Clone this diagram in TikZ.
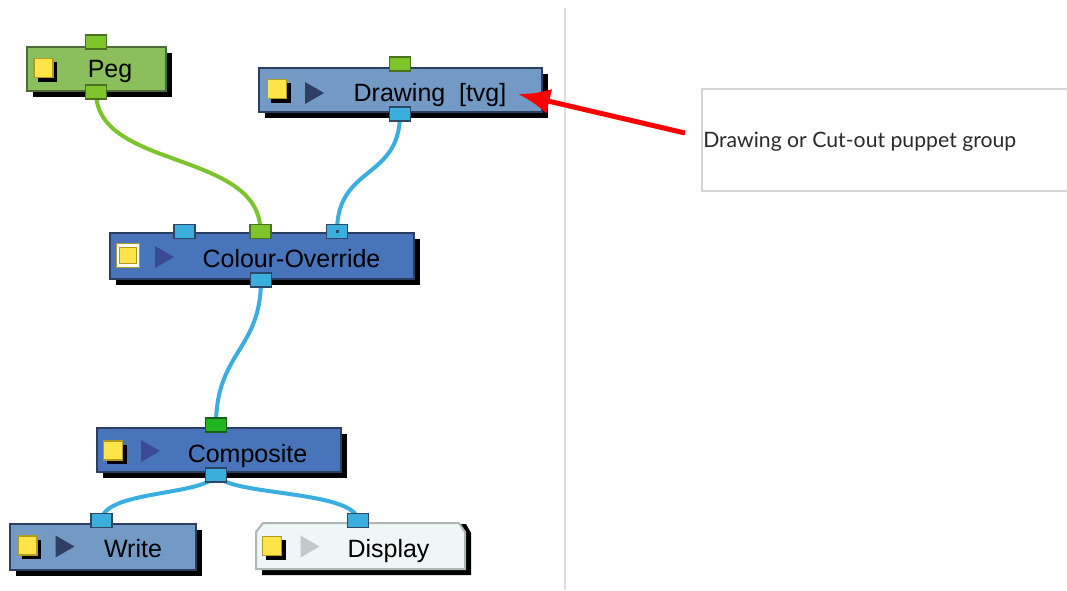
\documentclass[tikz,border=0pt]{standalone}
\usepackage{fontspec}
\setmainfont{Liberation Sans}
\newfontfamily\notefont{Lato}
\usetikzlibrary{shadows,arrows.meta}
\definecolor{pegfill}{HTML}{8BBF5B}
\definecolor{pegborder}{HTML}{4E6B35}
\definecolor{lightblue}{HTML}{7399C5}
\definecolor{darkblue}{HTML}{4774BA}
\definecolor{nodeborder}{HTML}{2C3E60}
\definecolor{portblue}{HTML}{3BAEDE}
\definecolor{portborder}{HTML}{2E4763}
\definecolor{portgreen}{HTML}{7DC52B}
\definecolor{portgreenborder}{HTML}{4C7022}
\definecolor{compgreen}{HTML}{1FB61F}
\definecolor{compgreenborder}{HTML}{1A5E1A}
\definecolor{yellowsq}{HTML}{FFE449}
\definecolor{yellowborder}{HTML}{B19A20}
\definecolor{tridark}{HTML}{2F3E63}
\definecolor{trimid}{HTML}{3C4A96}
\definecolor{trilight}{HTML}{C3C9CA}
\definecolor{dispfill}{HTML}{EFF6F6}
\definecolor{dispborder}{HTML}{AEB6B6}
\definecolor{wireblue}{HTML}{3AAEDF}
\definecolor{wiregreen}{HTML}{7CC42C}
\definecolor{sepgray}{HTML}{DEDEDE}
\definecolor{boxgray}{HTML}{D6D6D6}
\definecolor{arrowred}{HTML}{FF0000}
\definecolor{notetext}{HTML}{2A2A2A}
\pgfdeclarelayer{wires}
\pgfsetlayers{wires,main}
\tikzset{
  module/.style={draw=nodeborder, line width=1.5pt, inner sep=0pt,
    drop shadow={shadow xshift=4.5pt, shadow yshift=-4.5pt, fill=black, opacity=1}},
  lbl/.style={font=\fontsize{18.75}{22}\selectfont, inner sep=0pt, anchor=base},
  port/.style={draw=portborder, fill=portblue, line width=1pt, minimum width=15.75pt,
    minimum height=10.5pt, inner sep=0pt},
  gport/.style={port, draw=portgreenborder, fill=portgreen},
  ysq/.style={draw=yellowborder, fill=yellowsq, line width=1.2pt, minimum size=14.5pt, inner sep=0pt,
    drop shadow={shadow xshift=3pt, shadow yshift=-3pt, fill=black, opacity=1}},
  play/.pic={\fill[pic actions] (-9.5,-11) -- (9.5,0) -- (-9.5,11) -- cycle;},
  wire/.style={line width=3pt, wireblue},
}
\begin{document}
\begin{tikzpicture}[x=0.75pt,y=-0.75pt]
\useasboundingbox (0,0) rectangle (1067,590);
% separator
\draw[sepgray, line width=1.5pt] (565,8) -- (565,590);
% note box
\draw[boxgray, line width=1.2pt] (1067,89) -- (702,89) -- (702,191) -- (1067,191);
\node[font=\notefont\fontsize{15.9}{19}\selectfont, text=notetext, anchor=base west, inner sep=0pt] (note) at (703,147) {Drawing or Cut-out puppet group};
% modules
\node[module, draw=pegborder, fill=pegfill, minimum width=104pt, minimum height=33pt] (peg) at (96.5,68.5) {};
\node[module, fill=lightblue, minimum width=212pt, minimum height=33pt] (drawing) at (400.5,89.5) {};
\node[module, fill=darkblue, minimum width=228pt, minimum height=34pt] (co) at (261.5,256) {};
\node[module, fill=darkblue, minimum width=183pt, minimum height=32.5pt] (comp) at (218.5,450) {};
\node[module, fill=lightblue, minimum width=139pt, minimum height=34.5pt] (write) at (103,546.5) {};
% display module (chamfered top corners)
\fill[black] (262,533) -- (269,524) -- (466,524) -- (471,533) -- (471,575) -- (262,575) -- cycle;
\filldraw[draw=dispborder, fill=dispfill, line width=1.5pt] (256,532) -- (263,523) -- (459,523) -- (465,532) -- (465,569) -- (256,569) -- cycle;
\node[inner sep=0pt, minimum width=156pt, minimum height=34pt] (display) at (360.5,546) {};
% yellow squares
\node[ysq] (peg-y) at (43.5,68) {};
\node[ysq] (drawing-y) at (277,89) {};
\node[draw=yellowborder, double=white, double distance=1.8pt, line width=0.8pt, fill=yellowsq, minimum size=15pt, inner sep=0pt] (co-y) at (128,255.5) {};
\node[ysq] (comp-y) at (113,450.5) {};
\node[ysq] (write-y) at (27.5,545.5) {};
\node[ysq] (display-y) at (272,546) {};
% play triangles
\pic[fill=tridark] at (314.5,93) {play};
\pic[fill=trimid] at (164.5,257) {play};
\pic[fill=trimid] at (150.5,451) {play};
\pic[fill=tridark] at (65,546.5) {play};
\pic[fill=trilight] at (310,546.5) {play};
% labels
\node[lbl] (peg-t) at (110,77) {Peg};
\node[lbl] (drawing-t) at (430,101.5) {Drawing\hspace{0.55em}[tvg]};
\node[lbl] (co-t) at (291.5,267.5) {Colour-Override};
\node[lbl] (comp-t) at (247.5,462) {Composite};
\node[lbl] (write-t) at (133,557) {Write};
\node[lbl] (display-t) at (388.5,557) {Display};
% ports
\node[gport] (peg-in) at (96,42) {};
\node[gport] (peg-out) at (96,92) {};
\node[gport] (drawing-in) at (400,64) {};
\node[port] (drawing-out) at (400,114) {};
\node[port] (co-in1) at (184.5,231.5) {};
\node[gport] (co-in2) at (260.5,231.5) {};
\node[port] (co-in3) at (337,231.5) {};
\fill[portborder] (co-in3.center) +(-1.5,-1.5) rectangle +(1.5,1.5);
\node[port] (co-out) at (261,280) {};
\node[port, draw=compgreenborder, fill=compgreen] (comp-in) at (216,425) {};
\node[port] (comp-out) at (216,475) {};
\node[port] (write-in) at (101.5,520.5) {};
\node[port] (display-in) at (358,520.5) {};
% wires
\begin{pgfonlayer}{wires}
\draw[wire, wiregreen] (peg-out.center) .. controls (96,170) and (260.5,150) .. (co-in2.center);
\draw[wire] (drawing-out.center) .. controls (400,180) and (337,165) .. (co-in3.center);
\draw[wire] (co-out.center) .. controls (261,350) and (216,352) .. (comp-in.center);
\draw[wire] (comp-out.center) .. controls (205,496) and (103,490) .. (write-in.center);
\draw[wire] (comp-out.center) .. controls (228,496) and (356,490) .. (display-in.center);
\end{pgfonlayer}
% red arrow
\coordinate (arrow-tail) at (685,133);
\coordinate (arrow-tip) at (518,94);
\draw[arrowred, line width=3.75pt, -{Latex[length=24pt,width=19pt]}] (arrow-tail) -- (arrow-tip);
\end{tikzpicture}
\end{document}
